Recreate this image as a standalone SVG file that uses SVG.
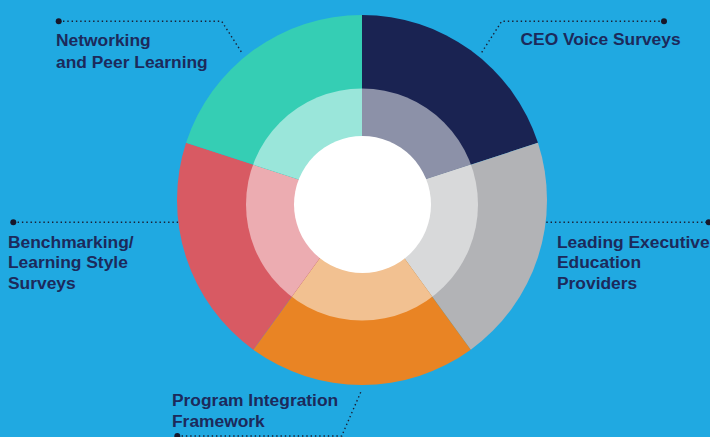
<svg xmlns="http://www.w3.org/2000/svg" width="710" height="437" viewBox="0 0 710 437">
<style>
.bg{fill:#20A9E1}
.lbl{font-family:"Liberation Sans",Arial,sans-serif;font-weight:bold;font-size:17.4px;fill:#1C2A5B}
.dot-line{fill:none;stroke:#1B1F33;stroke-width:1.4;stroke-dasharray:1.4 2.9}
.dot{fill:#17172A}
</style>
<defs>
<clipPath id="inner"><circle cx="362" cy="204.5" r="116"/></clipPath>
</defs>
<rect class="bg" x="0" y="0" width="710" height="437"/>
<g id="connectors">
<polyline class="dot-line" points="58.7,21.3 221.7,21.3 242.7,54"/>
<circle class="dot" cx="58.7" cy="21.3" r="3"/>
<polyline class="dot-line" points="664,21.3 501.7,21.3 480.7,54"/>
<circle class="dot" cx="664" cy="21.3" r="3"/>
<line class="dot-line" x1="13.3" y1="222.3" x2="182" y2="222.3"/>
<circle class="dot" cx="13.3" cy="222.3" r="3"/>
<line class="dot-line" x1="542" y1="222.3" x2="708.7" y2="222.3"/>
<circle class="dot" cx="708.7" cy="222.3" r="3"/>
<polyline class="dot-line" points="177.3,436 341.7,436 361.7,390"/>
<circle class="dot" cx="177.3" cy="436" r="3"/>
</g>
<g id="node-ceo">
<path d="M362,200 L362,15 A185,185 0 0 1 537.95,142.83 Z" fill="#1A2352"/>
<path d="M362,200 L362,15 A185,185 0 0 1 537.95,142.83 Z" fill="#8C91A8" clip-path="url(#inner)"/>
<text class="lbl" x="520.5" y="45">CEO Voice Surveys</text>
</g>
<g id="node-leading">
<path d="M362,200 L537.95,142.83 A185,185 0 0 1 470.74,349.67 Z" fill="#B2B3B6"/>
<path d="M362,200 L537.95,142.83 A185,185 0 0 1 470.74,349.67 Z" fill="#D8D9DA" clip-path="url(#inner)"/>
<text class="lbl" x="557" y="247.5">Leading Executive</text>
<text class="lbl" x="557" y="268.3">Education</text>
<text class="lbl" x="557" y="289.3">Providers</text>
</g>
<g id="node-program">
<path d="M362,200 L470.74,349.67 A185,185 0 0 1 253.26,349.67 Z" fill="#E98424"/>
<path d="M362,200 L470.74,349.67 A185,185 0 0 1 253.26,349.67 Z" fill="#F2C191" clip-path="url(#inner)"/>
<text class="lbl" x="172" y="406">Program Integration</text>
<text class="lbl" x="172" y="426.5">Framework</text>
</g>
<g id="node-benchmarking">
<path d="M362,200 L253.26,349.67 A185,185 0 0 1 186.05,142.83 Z" fill="#D85A63"/>
<path d="M362,200 L253.26,349.67 A185,185 0 0 1 186.05,142.83 Z" fill="#ECACB1" clip-path="url(#inner)"/>
<text class="lbl" x="8" y="247.5">Benchmarking/</text>
<text class="lbl" x="8" y="268.3">Learning Style</text>
<text class="lbl" x="8" y="289.3">Surveys</text>
</g>
<g id="node-networking">
<path d="M362,200 L186.05,142.83 A185,185 0 0 1 362,15 Z" fill="#35CEB4"/>
<path d="M362,200 L186.05,142.83 A185,185 0 0 1 362,15 Z" fill="#9AE6DA" clip-path="url(#inner)"/>
<text class="lbl" x="56" y="45.5">Networking</text>
<text class="lbl" x="56" y="67.5">and Peer Learning</text>
</g>
<g id="hub">
<circle cx="362.5" cy="204.5" r="68.5" fill="#FFFFFF"/>
</g>
</svg>
